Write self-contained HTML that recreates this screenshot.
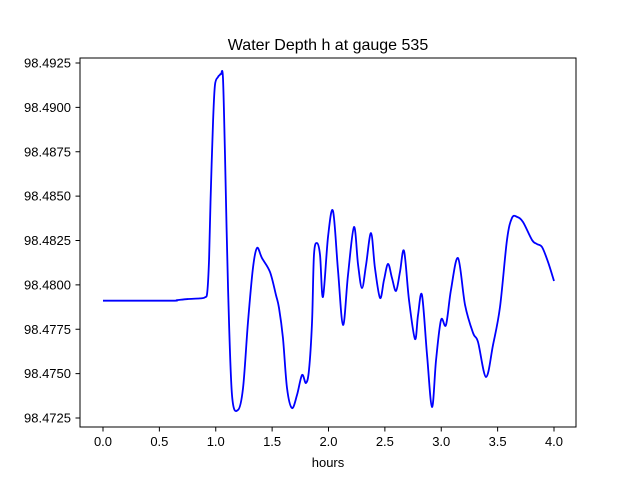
<!DOCTYPE html>
<html><head><meta charset="utf-8"><style>
body{margin:0;background:#fff;}
svg text{font-family:"Liberation Sans","DejaVu Sans",sans-serif;fill:#000;}
</style></head><body>
<svg id="chart" width="640" height="480" xmlns="http://www.w3.org/2000/svg">
<rect width="640" height="480" fill="#fff"/>
<text x="328" y="50" font-size="16" text-anchor="middle">Water Depth h at gauge 535</text>
<g id="plot"></g>
<rect x="80" y="58" width="496" height="369" fill="none" stroke="#000" stroke-width="1"/>
<text x="328" y="467" font-size="13" text-anchor="middle">hours</text>
</svg>
<script>
const times=[0,0.6,0.656,0.75,0.86,0.905,0.925,0.941,0.955,0.976,0.993,1.020,1.035,1.047,1.064,1.082,1.109,1.144,1.197,1.242,1.286,1.330,1.366,1.410,1.481,1.534,1.561,1.596,1.632,1.676,1.721,1.765,1.800,1.827,1.854,1.871,1.898,1.925,1.951,1.996,2.040,2.084,2.129,2.173,2.226,2.262,2.297,2.333,2.377,2.412,2.457,2.492,2.528,2.563,2.599,2.634,2.670,2.714,2.767,2.794,2.829,2.874,2.918,2.954,2.998,3.042,3.086,3.149,3.211,3.282,3.326,3.397,3.459,3.521,3.583,3.627,3.672,3.725,3.805,3.849,3.894,3.947,4.0];
const depths=[98.47911,98.47911,98.47914,98.47920,98.47924,98.47930,98.47960,98.48150,98.48500,98.48918,98.49126,98.49171,98.49182,98.49188,98.49166,98.48732,98.47982,98.4738,98.47295,98.47419,98.47791,98.48095,98.48208,98.48151,98.48073,98.47943,98.4787,98.47701,98.47419,98.47306,98.4738,98.47492,98.47447,98.4752,98.47791,98.48168,98.48236,98.48168,98.47932,98.48272,98.48416,98.48084,98.47774,98.48056,98.48326,98.48115,98.47982,98.48112,98.48292,98.48095,98.47926,98.48027,98.48118,98.48039,98.47966,98.48073,98.48191,98.47915,98.47695,98.4783,98.47943,98.47605,98.47312,98.47577,98.47802,98.47774,98.47971,98.48151,98.47887,98.47729,98.47678,98.47481,98.47661,98.47875,98.48253,98.48377,98.48383,98.48354,98.48253,98.4823,98.48213,98.48129,98.48022];
const xTicks=[0,0.5,1.0,1.5,2.0,2.5,3.0,3.5,4.0];
const xTickLabels=["0.0","0.5","1.0","1.5","2.0","2.5","3.0","3.5","4.0"];
const yTicks=[98.4725,98.4750,98.4775,98.4800,98.4825,98.4850,98.4875,98.4900,98.4925];
const yTickLabels=["98.4725","98.4750","98.4775","98.4800","98.4825","98.4850","98.4875","98.4900","98.4925"];

const NS="http://www.w3.org/2000/svg";
function xs(t){return 103+(t-0)*(554-103)/4;}
function ys(v){return 418-(v-98.4725)*(418-63)/0.02;}
const g=document.getElementById('plot');
function mk(tag,attrs){const e=document.createElementNS(NS,tag);for(const k in attrs)e.setAttribute(k,attrs[k]);return e;}
xTicks.forEach((t,i)=>{
  const x=xs(t);
  const l=mk('line',{x1:x,x2:x,y1:427,y2:431.5,stroke:'#000'});
  
  
  g.appendChild(l);
  const tx=mk('text',{x:x,y:446,'font-size':13,'text-anchor':'middle'});
  tx.textContent=xTickLabels[i];
  
  
  g.appendChild(tx);
});
yTicks.forEach((v,i)=>{
  const y=ys(v);
  const l=mk('line',{x1:75.5,x2:80,y1:y,y2:y,stroke:'#000'});
  
  
  g.appendChild(l);
  const tx=mk('text',{x:71,y:y+4.5,'font-size':13,'text-anchor':'end'});
  tx.textContent=yTickLabels[i];
  
  
  g.appendChild(tx);
});
const pts=times.map((t,i)=>[xs(t),ys(depths[i])]);
let d='M'+pts[0][0]+','+pts[0][1];
for(let i=0;i<pts.length-1;i++){
  const p0=pts[Math.max(i-1,0)],p1=pts[i],p2=pts[i+1],p3=pts[Math.min(i+2,pts.length-1)];
  const c1=[p1[0]+(p2[0]-p0[0])/6,p1[1]+(p2[1]-p0[1])/6];
  const c2=[p2[0]-(p3[0]-p1[0])/6,p2[1]-(p3[1]-p1[1])/6];
  d+=' C'+c1[0].toFixed(2)+','+c1[1].toFixed(2)+' '+c2[0].toFixed(2)+','+c2[1].toFixed(2)+' '+p2[0].toFixed(2)+','+p2[1].toFixed(2);
}
const path=mk('path',{d:d,fill:'none',stroke:'#0000ff','stroke-width':1.8,'stroke-linejoin':'round'});


g.appendChild(path);
</script>
</body></html>
